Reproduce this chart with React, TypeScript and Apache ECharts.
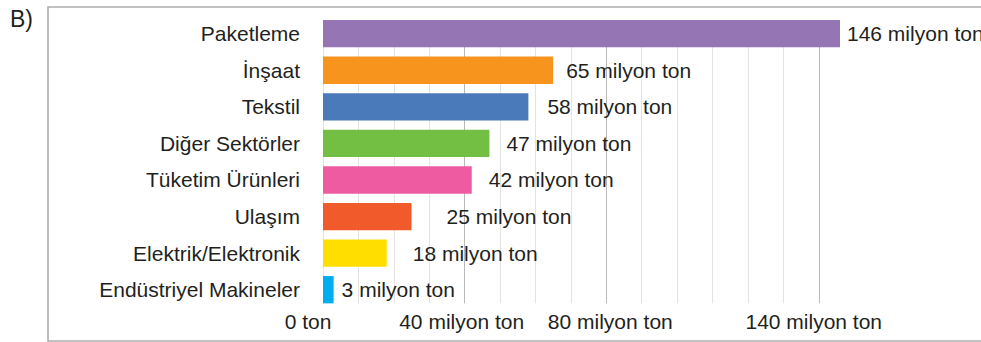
import React, { useEffect, useRef } from "react";
import * as echarts from "echarts";

const categories = [
  "Paketleme",
  "İnşaat",
  "Tekstil",
  "Diğer Sektörler",
  "Tüketim Ürünleri",
  "Ulaşım",
  "Elektrik/Elektronik",
  "Endüstriyel Makineler",
];
const values = [146, 65, 58, 47, 42, 25, 18, 3];
const valueLabels = [
  "146 milyon ton",
  "65 milyon ton",
  "58 milyon ton",
  "47 milyon ton",
  "42 milyon ton",
  "25 milyon ton",
  "18 milyon ton",
  "3 milyon ton",
];
const tickLabels: Record<number, string> = {
  0: "0 ton",
  40: "40 milyon ton",
  80: "80 milyon ton",
  140: "140 milyon ton",
};

// styling (not data)
const barColors = ["#9575b3", "#f7941d", "#4a7aba", "#72bf44", "#ee5ba0", "#f15a2b", "#ffde00", "#00aeef"];
const labelGaps = [7, 13, 19, 17, 17, 35, 26, 8];
const TEXT = "#231f20";
const FONT = "'Liberation Sans', Arial, Helvetica, sans-serif";

export default function App() {
  const ref = useRef<HTMLDivElement>(null);
  useEffect(() => {
    if (!ref.current) return;
    const chart = echarts.init(ref.current, undefined, { renderer: "svg" });
    const gridColors: string[] = [];
    for (let v = 0; v <= 140; v += 10) {
      gridColors.push(v === 40 || v === 80 || v === 140 ? "#b9b9b9" : "#e3e3e3");
    }
    chart.setOption({
      animation: false,
      textStyle: { fontFamily: FONT, color: TEXT },
      grid: [
        { left: 323, right: 141, top: 33.7, bottom: 52.3 },
        { left: 323, right: 141, top: 20, bottom: 38.7 },
      ],
      xAxis: [
        {
          gridIndex: 0,
          type: "value",
          min: 0,
          max: 146,
          interval: 10,
          show: false,
        },
        {
          gridIndex: 1,
          type: "value",
          min: 0,
          max: 146,
          interval: 10,
          axisLine: { show: false },
          axisTick: { show: false },
          splitLine: {
            show: true,
            showMaxLine: false,
            lineStyle: { color: gridColors, width: 1 },
          },
          axisLabel: {
            margin: 8,
            fontSize: 21,
            color: TEXT,
            fontFamily: FONT,
            showMaxLabel: false,
            formatter: (v: number) => {
              const t = tickLabels[v];
              if (!t) return "";
              if (v === 0) return "{z|" + t + "}";
              if (v === 40) return "{f|" + t + "}";
              if (v === 80) return "{e|" + t + "}";
              if (v === 140) return "{h|" + t + "}";
              return t;
            },
            rich: {
              z: { fontSize: 21, color: TEXT, fontFamily: FONT, padding: [0, 30, 0, 0] },
              f: { fontSize: 21, color: TEXT, fontFamily: FONT, padding: [0, 6, 0, 0] },
              e: { fontSize: 21, color: TEXT, fontFamily: FONT, padding: [0, 0, 0, 8] },
              h: { fontSize: 21, color: TEXT, fontFamily: FONT, padding: [0, 10, 0, 0] },
            },
          },
        },
      ],
      yAxis: [
        {
          gridIndex: 0,
          type: "category",
          data: categories,
          inverse: true,
          boundaryGap: false,
          axisLine: { show: false },
          axisTick: { show: false },
          splitLine: { show: false },
          axisLabel: { margin: 23, fontSize: 21, color: TEXT, fontFamily: FONT },
        },
        { gridIndex: 1, type: "value", show: false },
      ],
      series: [
        {
          type: "bar",
          xAxisIndex: 0,
          yAxisIndex: 0,
          barWidth: 27.3,
          z: 3,
          data: values.map((v, i) => ({
            value: v,
            itemStyle: { color: barColors[i] },
            label: { distance: labelGaps[i] },
          })),
          label: {
            show: true,
            position: "right",
            fontSize: 21,
            color: TEXT,
            fontFamily: FONT,
            formatter: (p: any) => valueLabels[p.dataIndex],
          },
        },
      ],
      graphic: [
        {
          type: "rect",
          shape: { x: 48, y: 7, width: 960, height: 334 },
          style: { fill: "none", stroke: "#adadad", lineWidth: 1.6 },
          z: 0,
          silent: true,
        },
        {
          type: "text",
          x: 10,
          y: 7,
          style: { text: "B)", fontSize: 23, fill: TEXT, font: "23px " + FONT },
        },
      ],
    });
    return () => chart.dispose();
  }, []);
  return (
    <div
      ref={ref}
      style={{ position: "fixed", left: 0, top: 0, width: 981, height: 342, background: "#fff" }}
    />
  );
}
